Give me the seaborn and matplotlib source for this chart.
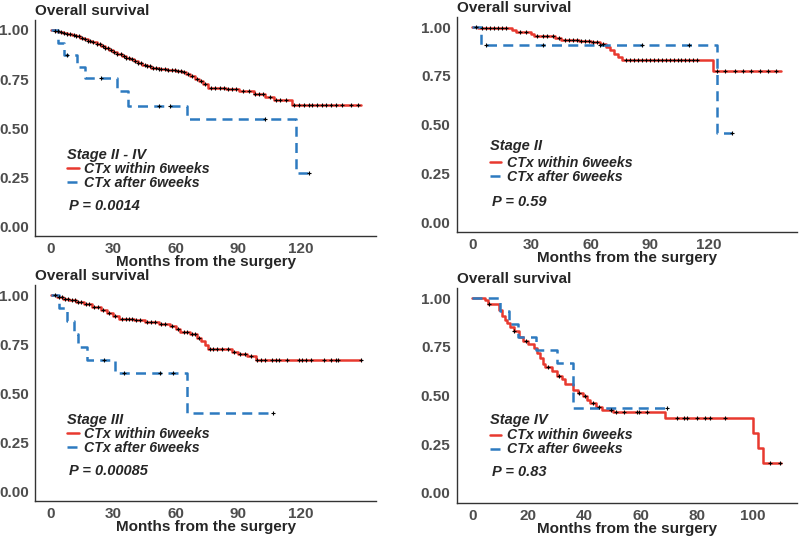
import numpy as np
import matplotlib
matplotlib.use("Agg")
import matplotlib.pyplot as plt
import seaborn as sns
from matplotlib.lines import Line2D
from matplotlib.font_manager import FontProperties

# ---- data (months, survival probability) ----
# Stage II - IV
p1_red_t = [0, 2, 4, 6, 8, 10, 12, 14, 16, 18, 20, 22, 24, 26, 28, 30, 32, 34, 36, 38,
            40, 42, 44, 46, 48, 52, 56, 60, 63, 65, 67, 69, 71, 73, 75.5, 84, 90.5, 97.5, 103, 107,
            115.7, 148.6]
p1_red_s = [1.0, 0.995, 0.99, 0.985, 0.98, 0.974, 0.967, 0.96, 0.953, 0.945,
            0.937, 0.928, 0.919, 0.909, 0.899, 0.889, 0.878, 0.867, 0.857, 0.85,
            0.842, 0.832, 0.823, 0.815, 0.808, 0.802, 0.798, 0.791, 0.785, 0.776,
            0.765, 0.752, 0.74, 0.724, 0.703, 0.698, 0.69, 0.675, 0.658, 0.641,
            0.619, 0.619]
p1_red_cens = [2, 3.5, 5, 6.5, 8, 9.5, 11, 12, 13.5, 15, 16.5, 18, 19, 20.5, 22, 23.5, 25, 26,
               27.5, 29, 30.5, 32, 33.5, 35, 36, 37.5, 39, 40.5, 42, 43.5, 45, 46, 47.5, 49,
               50.5, 52, 53, 55, 56.5, 58, 59.5, 61, 62.5, 64, 66, 68, 70, 72, 74, 77, 79, 81,
               83, 85, 87, 89, 92, 95, 98, 100, 102, 105, 108, 110, 113, 116.7, 119, 121.4,
               123.8, 125.2, 127.6, 130, 131.9, 134.3, 136.7, 139.5, 143.8, 147.6]
p1_blue_t = [0, 3.3, 6.3, 12.4, 16.4, 31.8, 36.9, 65.2, 117.7, 124]
p1_blue_s = [1.0, 0.935, 0.87, 0.81, 0.755, 0.69, 0.61, 0.545, 0.273, 0.273]
p1_blue_cens = [8, 24, 52, 57, 103, 124]

# Stage II
p2_red_t = [0, 3, 20, 22, 30, 31.5, 42, 45, 54, 60, 64.6, 68, 70, 72, 74, 76, 122, 156.6]
p2_red_s = [1.0, 0.994, 0.985, 0.975, 0.962, 0.952, 0.944, 0.936, 0.928, 0.922,
            0.915, 0.9, 0.88, 0.86, 0.845, 0.829, 0.774, 0.774]
p2_red_cens = [2, 5, 7, 9, 11, 13, 15, 17, 24, 27, 33, 36, 38, 41, 44, 47, 49, 51, 53, 55, 57,
               59, 61, 63, 66, 78, 80, 82, 84, 86, 88, 90, 92, 94, 96, 98, 100, 102, 104, 106,
               108, 110, 112, 114, 124, 128, 133, 137, 141, 146, 150, 154]
p2_blue_t = [0, 4.2, 124.2, 131.8]
p2_blue_s = [1.0, 0.909, 0.455, 0.455]
p2_blue_cens = [7, 36, 64.6, 86, 110, 131.8]

# Stage III
p3_red_t = [0, 3, 6, 9, 12, 16, 20, 24, 27, 30, 33, 40, 45, 52, 57, 60, 62, 67, 70, 72,
            74, 75.5, 87, 90, 94, 98.6, 148.6]
p3_red_s = [1.0, 0.99, 0.98, 0.972, 0.963, 0.955, 0.94, 0.925, 0.91, 0.895,
            0.88, 0.872, 0.86, 0.85, 0.84, 0.825, 0.81, 0.8, 0.78, 0.765,
            0.745, 0.723, 0.71, 0.7, 0.69, 0.668, 0.668]
p3_red_cens = [2, 4, 5.5, 7, 8.5, 10, 11.5, 13, 14.5, 17, 18.5, 21, 22.5, 25, 28, 31, 34, 36,
               37.5, 39, 41, 43, 46, 48, 50, 53, 55, 58, 61, 64, 65.5, 68, 69, 71, 76.5, 78,
               80, 82, 85, 88, 91, 93, 96, 99, 101, 102.6, 106.2, 108, 109.5, 113.3, 119,
               120.5, 122.4, 124.8, 131, 134.3, 136.7, 138, 148.6]
p3_blue_t = [0, 4, 7.9, 11, 12.9, 17.5, 31, 65.5, 106.5]
p3_blue_s = [1.0, 0.933, 0.867, 0.8, 0.733, 0.667, 0.6, 0.4, 0.4]
p3_blue_cens = [25.4, 35, 52.5, 58.8, 106.5]

# Stage IV
p4_red_t = [0, 4.4, 5.5, 9.6, 10.5, 11.5, 12.5, 13.5, 15, 16.5, 18, 20, 22, 23, 24, 25, 26,
            28.5, 30, 32, 33, 36, 37.5, 39.5, 41, 42, 44, 46, 50, 68.7, 100, 101.8, 103.5, 110]
p4_red_s = [1.0, 0.99, 0.97, 0.94, 0.91, 0.885, 0.87, 0.85, 0.83, 0.8,
            0.78, 0.765, 0.745, 0.72, 0.69, 0.66, 0.645, 0.625, 0.6, 0.585,
            0.56, 0.53, 0.515, 0.495, 0.475, 0.46, 0.44, 0.427, 0.415, 0.383,
            0.306, 0.229, 0.153, 0.153]
p4_red_cens = [5.9, 15, 19, 27, 31, 38, 40, 43, 45, 49.2, 51, 53.9, 58.6, 59.2, 62.2, 72.8,
               75.2, 76.4, 79.9, 82.9, 84.6, 90, 105.9, 109.5]
p4_blue_t = [0, 10, 13.2, 16.2, 22.7, 30.3, 35.7, 69.3]
p4_blue_s = [1.0, 0.933, 0.867, 0.8, 0.733, 0.667, 0.436, 0.436]
p4_blue_cens = [69.3]

stages = ["Stage II - IV", "Stage II", "Stage III", "Stage IV"]
pvals = ["P = 0.0014", "P = 0.59", "P = 0.00085", "P = 0.83"]
group_labels = ["CTx within 6weeks", "CTx after 6weeks"]
y_ticks = [0, 0.25, 0.5, 0.75, 1.0]
y_ticklabels = ["0.00", "0.25", "0.50", "0.75", "1.00"]

RED = "#E8392F"
BLUE = "#2D7AC0"
DASH = (0, (4, 2.5))


def surv_at(times, surv, cens):
    idx = np.searchsorted(times, cens, side="right") - 1
    return np.asarray(surv)[idx]


sns.set_style("white")
plt.rcParams["font.family"] = ["Liberation Sans", "DejaVu Sans"]

fp = FontProperties(family="Liberation Sans", weight="bold", style="italic", size=10.5)
fp_leg = FontProperties(family="Liberation Sans", weight="bold", style="italic", size=10.2)

fig = plt.figure(figsize=(8, 5.37), dpi=100)
rects = [(0.044, 0.5605, 0.426, 0.402), (0.571, 0.5684, 0.425, 0.3994),
         (0.044, 0.0674, 0.426, 0.4015), (0.571, 0.0638, 0.425, 0.3994)]
# (x, title y, legend rows centre y, p-value y) in axes fraction
txt_pos = [(0.094, 0.375, 0.280, 0.139), (0.097, 0.398, 0.288, 0.139),
           (0.094, 0.377, 0.277, 0.140), (0.097, 0.388, 0.281, 0.143)]

panels = [
    (p1_red_t, p1_red_s, p1_red_cens, p1_blue_t, p1_blue_s, p1_blue_cens, [0, 30, 60, 90, 120]),
    (p2_red_t, p2_red_s, p2_red_cens, p2_blue_t, p2_blue_s, p2_blue_cens, [0, 30, 60, 90, 120]),
    (p3_red_t, p3_red_s, p3_red_cens, p3_blue_t, p3_blue_s, p3_blue_cens, [0, 30, 60, 90, 120]),
    (p4_red_t, p4_red_s, p4_red_cens, p4_blue_t, p4_blue_s, p4_blue_cens, [0, 20, 40, 60, 80, 100]),
]

for i, (rt, rs, rc, bt, bs, bc, xt) in enumerate(panels):
    ax = fig.add_axes(rects[i])
    sns.lineplot(x=rt, y=rs, color=RED, lw=1.8, drawstyle="steps-post", estimator=None, ax=ax)
    sns.lineplot(x=bt, y=bs, color=BLUE, lw=1.8, linestyle=DASH, drawstyle="steps-post",
                 estimator=None, ax=ax)
    sns.scatterplot(x=rc, y=surv_at(rt, rs, rc), marker="+", color="black", s=10,
                    linewidth=0.8, ax=ax, zorder=3)
    sns.scatterplot(x=bc, y=surv_at(bt, bs, bc), marker="+", color="black", s=10,
                    linewidth=0.8, ax=ax, zorder=3)

    xmax = max(rt[-1], bt[-1])
    ax.set_xlim(-0.05 * xmax, 1.05 * xmax)
    ax.set_ylim(-0.05, 1.05)
    ax.set_xticks(xt)
    ax.set_yticks(y_ticks)
    ax.set_yticklabels(y_ticklabels)
    ax.tick_params(labelsize=11, labelcolor="#4D4D4D", color="#333333", length=3,
                   width=0.8, pad=1.5)
    for lab in ax.get_xticklabels() + ax.get_yticklabels():
        lab.set_fontweight("bold")
    for side in ["top", "right"]:
        ax.spines[side].set_visible(False)
    for side in ["left", "bottom"]:
        ax.spines[side].set_color("#333333")
        ax.spines[side].set_linewidth(1.0)

    ax.set_xlabel("Months from the surgery", fontsize=11, fontweight="bold", labelpad=-1)
    ax.set_ylabel("")
    ax.set_title("Overall survival", loc="left", fontsize=11, fontweight="bold", pad=4)

    tx, ty, ly, py = txt_pos[i]
    ax.text(tx, ty, stages[i], transform=ax.transAxes, fontproperties=fp, va="center")
    handles = [Line2D([], [], color=RED, lw=1.8),
               Line2D([], [], color=BLUE, lw=1.8, linestyle=DASH)]
    ax.legend(handles, group_labels, loc="center left", bbox_to_anchor=(tx, ly),
              frameon=False, prop=fp_leg, handlelength=0.8, handletextpad=0.4,
              labelspacing=0.0, borderpad=0, borderaxespad=0)
    ax.text(tx + 0.006, py, pvals[i], transform=ax.transAxes, fontproperties=fp, va="center")

fig.savefig("out.png", dpi=100)
